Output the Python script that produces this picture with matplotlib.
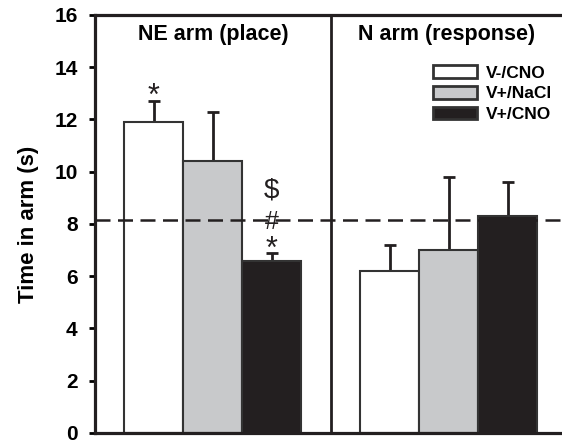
import numpy as np
import matplotlib.pyplot as plt

# ======================= DONNEES =======================
groupes = ["NE arm (place)", "N arm (response)"]
conditions = ["V-/CNO", "V+/NaCl", "V+/CNO"]
moyennes_NE = [11.9, 10.4, 6.6]
erreurs_NE = [0.8, 1.9, 0.3]
moyennes_N = [6.2, 7.0, 8.3]
erreurs_N = [1.0, 2.8, 1.3]
niveau_hasard = 8.15
couleurs = ["#ffffff", "#c8c9cb", "#231f20"]

plt.rcParams['font.family'] = ['Liberation Sans', 'DejaVu Sans']

fig = plt.figure(figsize=(5.62, 4.42), dpi=100)
ax = fig.add_axes([0.169, 0.0204, 0.831, 0.9457])

pos_NE = np.array([1, 2, 3])
pos_N = np.array([5, 6, 7])

for i in range(3):
    ax.bar(pos_NE[i], moyennes_NE[i], width=1.0, color=couleurs[i],
           edgecolor="#333333", linewidth=1.5, label=conditions[i], zorder=2)
    ax.bar(pos_N[i], moyennes_N[i], width=1.0, color=couleurs[i],
           edgecolor="#333333", linewidth=1.5, zorder=2)

ax.errorbar(pos_NE, moyennes_NE, yerr=[np.zeros(3), erreurs_NE], fmt='none',
            ecolor="#231f20", elinewidth=2, capsize=4.5, capthick=2, zorder=1)
ax.errorbar(pos_N, moyennes_N, yerr=[np.zeros(3), erreurs_N], fmt='none',
            ecolor="#231f20", elinewidth=2, capsize=4.5, capthick=2, zorder=1)

ax.axhline(niveau_hasard, color="#231f20", lw=1.8, ls=(0, (6, 3)), zorder=3)
ax.axvline(4, color="#231f20", lw=2, zorder=3)

# annotations
ax.text(1, 12.55, "*", ha='center', va='baseline', fontsize=22, color="#231f20")
ax.text(3, 6.7, "*", ha='center', va='baseline', fontsize=22, color="#231f20")
ax.text(3, 7.8, "#", ha='center', va='baseline', fontsize=18, color="#231f20")
ax.text(3, 9.03, "$", ha='center', va='baseline', fontsize=20, color="#231f20")

ax.text(2.0, 15.25, groupes[0], ha='center', va='center', fontsize=15.5, fontweight='bold')
ax.text(5.97, 15.25, groupes[1], ha='center', va='center', fontsize=15.5, fontweight='bold')

ax.set_xlim(0, 7.92)
ax.set_ylim(0, 16)
ax.set_yticks(np.arange(0, 17, 2))
ax.set_xticks([])
ax.set_ylabel("Time in arm (s)", fontsize=16, fontweight='bold', labelpad=11)
for lab in ax.get_yticklabels():
    lab.set_fontweight('bold')
    lab.set_fontsize(15)
ax.tick_params(axis='y', direction='out', length=4.5, width=2, pad=8)

for s in ['left', 'top', 'bottom']:
    ax.spines[s].set_linewidth(2.3)
    ax.spines[s].set_color("#231f20")
ax.spines['right'].set_visible(False)

leg = ax.legend(loc='upper left', bbox_to_anchor=(0.706, 0.9), frameon=False,
                prop={'weight': 'bold', 'size': 12.5},
                handlelength=2.5, handleheight=0.75, labelspacing=0.3,
                handletextpad=0.55, borderpad=0)
for h in leg.legend_handles:
    h.set_linewidth(2)

fig.savefig("out.png", dpi=100)
